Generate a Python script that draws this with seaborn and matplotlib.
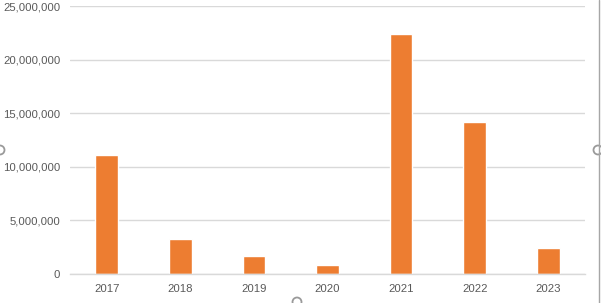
import matplotlib
matplotlib.use("Agg")
import matplotlib.pyplot as plt
import seaborn as sns
import pandas as pd
from matplotlib.ticker import FuncFormatter, MultipleLocator
from matplotlib.patches import Circle
from matplotlib.lines import Line2D
from matplotlib.transforms import IdentityTransform

years = ["2017", "2018", "2019", "2020", "2021", "2022", "2023"]
values = [11100000, 3270000, 1680000, 840000, 22400000, 14180000, 2430000]

df = pd.DataFrame({"year": years, "value": values})

sns.set_theme(style="white")
plt.rcParams["font.family"] = ["Liberation Sans", "DejaVu Sans"]

fig = plt.figure(figsize=(6.01, 3.03), dpi=100)
ax = fig.add_axes([70/601, 1-274/303, (585-70)/601, (274-6)/303])

sns.barplot(data=df, x="year", y="value", color="#ED7D31", width=0.31,
            saturation=1, ax=ax)

ax.set_xlim(-0.5, 6.5)
ax.set_ylim(0, 25000000)
ax.yaxis.set_major_locator(MultipleLocator(5000000))
ax.yaxis.set_major_formatter(FuncFormatter(lambda v, p: f"{int(v):,}"))
ax.grid(axis="y", color="#D9D9D9", linewidth=1)
ax.set_axisbelow(True)
for s in ["top", "right", "left"]:
    ax.spines[s].set_visible(False)
ax.spines["bottom"].set_color("#D9D9D9")
ax.spines["bottom"].set_linewidth(1)
ax.tick_params(axis="both", length=0, labelsize=8.2, colors="#595959")
ax.tick_params(axis="y", pad=7)
ax.tick_params(axis="x", pad=7)
ax.set_xlabel("")
ax.set_ylabel("")

# selection frame artifacts (pixel coordinates)
fig.add_artist(Line2D([598.5, 598.5], [0, 303], transform=IdentityTransform(),
                      color="#A6A6A6", linewidth=1))
for (x, y) in [(0, 150), (598, 150), (297, 302)]:
    fig.add_artist(Circle((x, 303 - y), 4.5, transform=IdentityTransform(),
                          facecolor="white", edgecolor="#9A9A9A", linewidth=1.3))

fig.savefig("out.png", dpi=100)
